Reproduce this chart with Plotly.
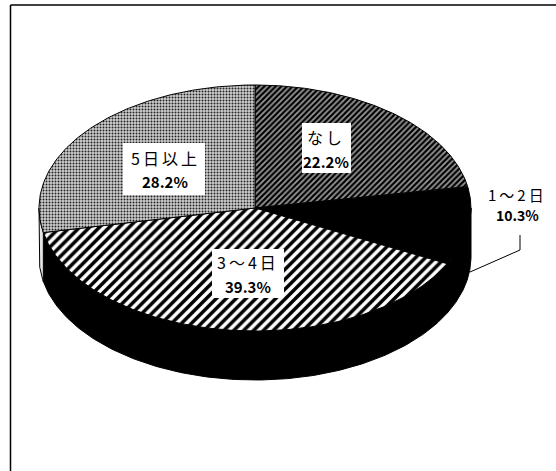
import numpy as np
import plotly.graph_objects as go

# ---- data ----
categories = ["なし", "1～2日", "3～4日", "5日以上"]
values = [22.2, 10.3, 39.3, 28.2]

# ---- style / geometry (window pixels) ----
W, H = 556, 471
CX, CY, A, B, DEPTH = 255, 208, 216, 123, 49
patterns = [
    dict(shape="/", fgcolor="black", bgcolor="#9a9a9a", size=4, solidity=0.55, fillmode="replace"),
    None,
    dict(shape="/", fgcolor="black", bgcolor="#ffffff", size=7, solidity=0.5, fillmode="replace"),
    dict(shape=".", fgcolor="#222222", bgcolor="#d0d0d0", size=3, solidity=0.35, fillmode="replace"),
]
solid = ["#555555", "#000000", "#ffffff", "#cccccc"]
side_colors = ["#000000", "#000000", "#000000", "#e6e6e6"]
# (text centre x, name y, percent y, name size, percent size)
label_pos = [(326, 137, 161, 16, 15), (517, 194, 215, 15, 14),
             (248, 262, 286, 16, 15), (165, 158, 181, 16, 15)]
# white boxes (x0, y0, x1, y1) or None
label_box = [(302, 123, 351, 173), None, (212, 249, 284, 298), (123, 143, 205, 195)]
FONT = "Noto Sans CJK JP"

fig = go.Figure()

total = sum(values)
start = 90.0
spans = []
for v in values:
    end = start - v / total * 360.0
    spans.append((start, end))
    start = end


def arc(t0, t1, dy=0.0, n=140):
    t = np.radians(np.linspace(t0, t1, n))
    return CX + A * np.cos(t), CY - B * np.sin(t) + dy


# sides (front half only, angles in [-180, 0])
for (s, e), col in zip(spans, side_colors):
    lo, hi = max(e, -180.0), min(s, 0.0)
    if hi <= lo:
        continue
    x1, y1 = arc(hi, lo)
    x2, y2 = arc(lo, hi, DEPTH)
    xs = np.concatenate([x1, x2, x1[:1]])
    ys = np.concatenate([y1, y2, y1[:1]])
    fig.add_trace(go.Scatter(x=xs, y=ys, mode="lines", fill="toself", fillcolor=col,
                             line=dict(color="black", width=1), hoverinfo="skip", showlegend=False))

# top faces
for (s, e), pat, sc, name in zip(spans, patterns, solid, categories):
    x1, y1 = arc(s, e)
    xs = np.concatenate([[CX], x1, [CX]])
    ys = np.concatenate([[CY], y1, [CY]])
    kw = dict(fillcolor=sc)
    if pat is not None:
        kw["fillpattern"] = pat
    fig.add_trace(go.Scatter(x=xs, y=ys, mode="lines", fill="toself",
                             line=dict(color="black", width=1), name=name,
                             hoverinfo="name", showlegend=False, **kw))

# label boxes
for box in label_box:
    if box is None:
        continue
    x0, y0, x1, y1 = box
    fig.add_shape(type="rect", xref="x", yref="y", x0=x0, y0=y0, x1=x1, y1=y1,
                  fillcolor="white", line=dict(width=0), layer="above")

# labels
for name, v, (lx, ny, py, ns, ps) in zip(categories, values, label_pos):
    fig.add_annotation(
        x=lx, y=ny, xref="x", yref="y", showarrow=False,
        text=f"<span style=\"letter-spacing:3px\">{name}</span>",
        font=dict(family=FONT, size=ns, color="black"))
    fig.add_annotation(
        x=lx, y=py, xref="x", yref="y", showarrow=False,
        text=f"<b>{v:.1f}%</b>",
        font=dict(family=FONT, size=ps, color="black"))

# leader line for the small slice
fig.add_shape(type="path", xref="x", yref="y",
              path="M 470 272 L 520 250 L 520 235",
              line=dict(color="black", width=1))

# frame (only top and left edges are visible in the scan)
fig.add_shape(type="line", xref="x", yref="y", x0=10.5, y0=5, x1=W, y1=5,
              line=dict(color="black", width=1.5))
fig.add_shape(type="line", xref="x", yref="y", x0=10.5, y0=5, x1=10.5, y1=H,
              line=dict(color="black", width=1.5))

fig.update_layout(
    width=W, height=H, margin=dict(l=0, r=0, t=0, b=0),
    paper_bgcolor="white", plot_bgcolor="white",
    xaxis=dict(range=[0, W], visible=False, fixedrange=True),
    yaxis=dict(range=[H, 0], visible=False, fixedrange=True),
    showlegend=False,
)
fig.write_html("out.html",
               config={"displayModeBar": False},
               post_script="document.body.style.margin='0px';document.body.style.overflow='hidden';")
